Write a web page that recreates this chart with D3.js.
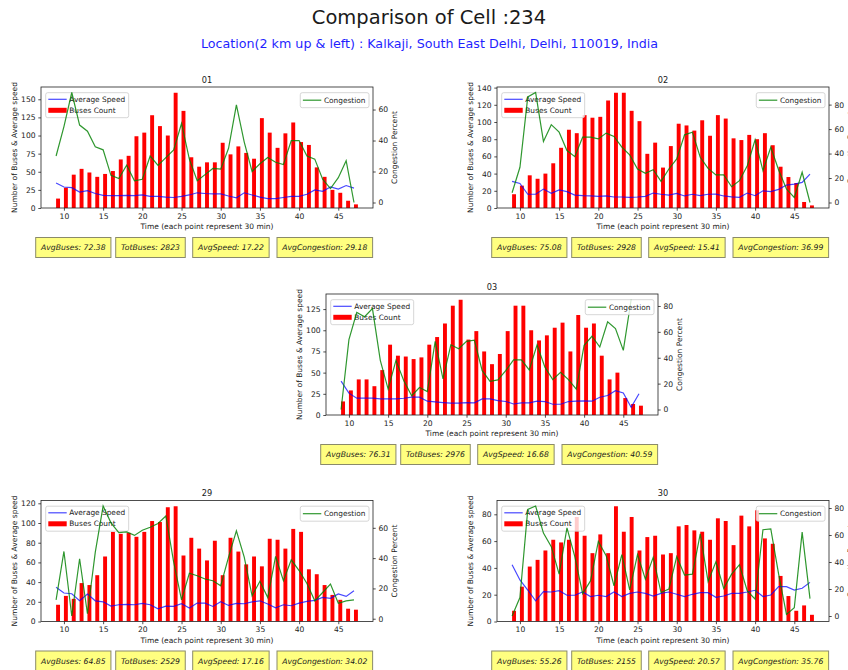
<!DOCTYPE html>
<html>
<head>
<meta charset="utf-8">
<script src="https://cdn.jsdelivr.net/npm/d3@7"></script>
<style>
  body { margin: 0; background: #fff; }
  svg { display: block; }
  text { font-family: "DejaVu Sans", sans-serif; fill: #1a1a1a; }
</style>
</head>
<body>
<svg id="fig" width="848" height="670"></svg>
<script>
// Half-hour slots 9..47
const slots = d3.range(9, 48);
const xTicks = [10, 15, 20, 25, 30, 35, 40, 45];

// Day 01
const buses01 = [13,28,46,54,49,43,47,51,67,72, 99,104,128,113,100,159,134,70,57,63, 63,90,74,85,76,68,124,104,83,103, 118,91,87,56,43,25,21,10,5];
const speed01 = [34.5,29,28,22,24,20,17.5,17,17,17.5, 17,18,16,16,15,14.5,16,18,21,20, 19.5,19.5,16.5,14,21,18,15,13,13,14.5, 16,16,19,25,23,29,26,31,27.5];
const congestion01 = [30,49,71,50,46,36,34,17.5,15.5,24, 14,15,30,24,29,34,51,28,14,18, 22,21.5,35,63,39,20,25,29,26,24.5, 40,40,30,28,15,9,16,27,0];

// Day 02
const buses02 = [16,26,38,34,40,52,70,91,87,108, 105,106,125,134,134,113,101,63,76,47, 72,98,96,90,102,84,108,104,81,79, 85,80,87,73,48,36,29,7,3];
const speed02 = [31,28.6,16,16,22,17,21,19,15,14.3, 14,13.5,14,12.8,12.8,12.4,12.8,13.5,17.4,16, 15,17,14,16,14.3,16,16.2,14,13,12.4, 17.4,14.3,20,19,21.7,26.7,27.8,29.8,39.4];
const congestion02 = [8,28.8,86.3,89.9,49.9,63.6,57.5,42.5,37.5,53.4, 53.4,52,56.7,54,45.2,38.9,27.4,23.8,26.8,17.3, 27.4,35.6,55.3,57.5,37,27.9,22.5,22.5,12.9,17.8, 30.1,51.2,26,45.2,26.6,11,4.1,24.7,0];

// Day 03 (no congestion reading for the last slot)
const buses03 = [16,29,42,42,34,53,83,70,69,66, 68,83,92,108,129,136,89,99,75,60, 72,99,129,129,100,88,94,103,109,75, 118,103,108,70,42,50,20,13,11];
const speed03 = [40,25.8,19.8,19.8,19.8,19,19,19,19.8,21, 21,16.3,15.5,14.7,13.9,13.9,14.7,14.3,19,19, 17,15.9,13,14.3,14.3,16.3,15.9,12.7,12.7,15.9, 16.3,16.7,16.3,21,23,28.6,26,9,25];
const congestion03 = [0,54,75,71.7,78,38,15.8,38,22.3,10.6, 17,13.8,52.7,23.6,50,47,52.7,53.5,30,21.8, 22.9,30,38.4,38.4,30.6,50,32.7,23.1,28.8,23.1, 15.8,49.6,56.6,48.3,67.8,62.6,45.7,85,null];

// Day 29
const buses29 = [17,26,23,39,37,47,66,91,89,90, 86,91,102,101,116,117,67,85,74,62, 82,47,85,71,58,66,56,84,83,74, 94,91,53,48,37,27,22,13,12];
const speed29 = [34.7,28.9,28.2,21,27.9,21,20,15.6,17,17.3, 17,18.4,17,12.9,15.6,15.3,18,13.6,18.7,18.7, 15.3,20,16.3,18.4,18,20,21,17.7,13.9,17, 16,18.7,20.4,21.4,24.5,23.5,27.9,25.5,31.3];
const congestion29 = [12.4,44.4,1.8,39.6,3.3,44,74.4,63.3,56.9,57.3, 55,58.4,60.4,62.9,67.8,37.3,12.4,30,28.4,26.2, 25.1,21.8,40.7,58,40.7,15.1,24.7,14,41.1,25.1, 38.9,31.8,23.3,11.8,17.3,22.9,10.2,11.8,12.4];

// Day 30
const buses30 = [8,26,41,46,53,61,59,61,78,64, 51,65,51,86,67,78,53,63,64,50, 51,71,72,68,67,61,77,75,57,79, 71,83,62,58,34,19,8,12,5];
const speed30 = [42.4,31,23.5,15.4,22.3,22,23,19.6,19.6,22, 18.6,19.6,18.6,22,18.6,21,22,21,19,21, 22,20.3,18.6,20.3,21.5,21.5,18,19,21,21, 22,23.3,18.6,19.8,26,26,23.5,24.8,29.2];
const congestion30 = [0,13.7,79,81.5,61.4,51.4,31,65.3,44,16.6, 26,55.3,44.7,22.4,45.5,19.4,45.5,27.3,43.5,17.4, 19.9,44,30.3,31,60.9,25.6,40.2,20.4,31,38, 18.6,12.4,63.9,64.6,31,1.2,6.2,62.1,12.9];

// Reported daily averages
const avgSpeedText = ["17.22", "15.41", "16.68", "17.16", "20.57"];
const avgCongestionText = ["29.18", "36.99", "40.59", "34.02", "35.76"];

// Tick labels for each panel
const leftTicks = [
  [0,25,50,75,100,125,150],
  [0,20,40,60,80,100,120,140],
  [0,25,50,75,100,125],
  [0,20,40,60,80,100,120],
  [0,20,40,60,80]
];
const rightTicks = [
  [0,20,40,60],
  [0,20,40,60,80],
  [0,20,40,60,80],
  [0,20,40,60],
  [0,20,40,60,80]
];
const panelTitles = ["01", "02", "03", "29", "30"];

const BAR_W = 0.5;
const W = 332, H = 121;
const origins = [[41, 87], [497, 87], [326, 294], [41, 500.5], [497, 500.5]];

const panels = panelTitles.map((t, i) => ({
  title: t,
  buses: [buses01, buses02, buses03, buses29, buses30][i],
  speed: [speed01, speed02, speed03, speed29, speed30][i],
  congestion: [congestion01, congestion02, congestion03, congestion29, congestion30][i],
  leftTicks: leftTicks[i],
  rightTicks: rightTicks[i],
  avgSpeed: avgSpeedText[i],
  avgCongestion: avgCongestionText[i],
  left: origins[i][0],
  top: origins[i][1]
}));

const svg = d3.select("#fig");
svg.append("rect").attr("width", 848).attr("height", 670).attr("fill", "#fff");

// Figure headings
svg.append("text").attr("x", 429).attr("y", 23.5).attr("text-anchor", "middle")
  .style("font-size", "19.5px").text("Comparison of Cell :234");
svg.append("text").attr("x", 429.5).attr("y", 47.6).attr("text-anchor", "middle")
  .style("font-size", "12.7px").style("fill", "#1f1fff")
  .text("Location(2 km up & left) : Kalkaji, South East Delhi, Delhi, 110019, India");

const xLo = slots[0], xHi = slots[slots.length - 1] + BAR_W;
const xPad = (xHi - xLo) * 0.05;

function styleAxis(sel) {
  sel.select(".domain").remove();
  sel.selectAll(".tick line").attr("stroke", "#222").attr("stroke-width", 0.8);
  sel.selectAll(".tick text").style("font-size", "7.6px").style("font-family", "DejaVu Sans").attr("fill", "#1a1a1a");
}

panels.forEach((p, idx) => {
  const g = svg.append("g").attr("transform", `translate(${p.left},${p.top})`);
  const x = d3.scaleLinear().domain([xLo - xPad, xHi + xPad]).range([0, W]);
  const yL = d3.scaleLinear().domain([0, d3.max(p.buses) * 1.05]).range([H, 0]);
  const cv = p.congestion.filter(v => v != null);
  const cMin = d3.min(cv), cMax = d3.max(cv), cPad = (cMax - cMin) * 0.05;
  const yR = d3.scaleLinear().domain([cMin - cPad, cMax + cPad]).range([H, 0]);

  const clipId = "clip" + idx;
  g.append("clipPath").attr("id", clipId).append("rect").attr("width", W).attr("height", H);

  // Title
  g.append("text").attr("x", W / 2).attr("y", -4.5).attr("text-anchor", "middle")
    .style("font-size", "8.2px").text(p.title);

  const plot = g.append("g").attr("clip-path", `url(#${clipId})`);

  // Bus count bars (edge-aligned)
  plot.append("g").selectAll("rect").data(slots).join("rect")
    .attr("x", (s) => x(s))
    .attr("width", (s) => x(s + BAR_W) - x(s))
    .attr("y", (s, i) => yL(p.buses[i]))
    .attr("height", (s, i) => yL(0) - yL(p.buses[i]))
    .attr("fill", "#ff0000");

  // Average speed line
  plot.append("path").datum(slots)
    .attr("fill", "none").attr("stroke", "#0000ff").attr("stroke-opacity", 0.72)
    .attr("stroke-width", 1.2)
    .attr("d", d3.line().x(s => x(s)).y((s, i) => yL(p.speed[i])));

  // Axes
  const xa = g.append("g").attr("transform", `translate(0,${H})`)
    .call(d3.axisBottom(x).tickValues(xTicks).tickSize(2.7).tickPadding(2.7).tickFormat(d3.format("d")));
  styleAxis(xa);
  const la = g.append("g")
    .call(d3.axisLeft(yL).tickValues(p.leftTicks).tickSize(2.7).tickPadding(2.7).tickFormat(d3.format("d")));
  styleAxis(la);
  const ra = g.append("g").attr("transform", `translate(${W},0)`)
    .call(d3.axisRight(yR).tickValues(p.rightTicks).tickSize(2.7).tickPadding(2.7).tickFormat(d3.format("d")));
  styleAxis(ra);

  // Axis labels
  g.append("text").attr("x", W / 2).attr("y", H + 21).attr("text-anchor", "middle")
    .style("font-size", "7.5px").text("Time (each point represent 30 min)");
  g.append("text").attr("transform", `translate(-24,${H / 2}) rotate(-90)`).attr("text-anchor", "middle")
    .style("font-size", "7.5px").text("Number of Buses & Average speed");
  g.append("text").attr("transform", `translate(${W + 24},${H / 2}) rotate(-90)`).attr("text-anchor", "middle")
    .style("font-size", "7.5px").text("Congestion Percent");

  // Left legend
  const ll = g.append("g").attr("transform", "translate(4.7,5.7)");
  const llBox = ll.append("rect").attr("height", 25).attr("rx", 2)
    .attr("fill", "#fff").attr("fill-opacity", 0.8).attr("stroke", "#cccccc").attr("stroke-width", 0.8);
  ll.append("line").attr("x1", 2.6).attr("x2", 21).attr("y1", 6.6).attr("y2", 6.6)
    .attr("stroke", "#0000ff").attr("stroke-opacity", 0.72).attr("stroke-width", 1.2);
  ll.append("rect").attr("x", 2.6).attr("y", 15.1).attr("width", 18.4).attr("height", 5).attr("fill", "#ff0000");
  const t1 = ll.append("text").attr("x", 23.6).attr("y", 6.6).attr("dy", "0.35em").style("font-size", "7.4px").text("Average Speed");
  const t2 = ll.append("text").attr("x", 23.6).attr("y", 17.6).attr("dy", "0.35em").style("font-size", "7.4px").text("Buses Count");
  const lw = Math.max(t1.node().getComputedTextLength(), t2.node().getComputedTextLength());
  llBox.attr("width", 23.6 + lw + 3.5);

  // Congestion line (twin axis, drawn over the left axis content)
  const cLine = d3.line().defined((s, i) => p.congestion[i] != null)
    .x(s => x(s)).y((s, i) => yR(p.congestion[i]));
  g.append("g").attr("clip-path", `url(#${clipId})`).append("path").datum(slots)
    .attr("fill", "none").attr("stroke", "#008000").attr("stroke-opacity", 0.82)
    .attr("stroke-width", 1.2).attr("d", cLine);

  // Right legend
  const rl = g.append("g");
  const rlBox = rl.append("rect").attr("y", 5.7).attr("height", 15).attr("rx", 2)
    .attr("fill", "#fff").attr("fill-opacity", 0.8).attr("stroke", "#cccccc").attr("stroke-width", 0.8);
  const rt = rl.append("text").attr("y", 13.2).attr("dy", "0.35em").style("font-size", "7.4px").text("Congestion");
  const rw = rt.node().getComputedTextLength();
  const boxRight = W - 4;
  const boxLeft = boxRight - (rw + 3.5 + 23.6);
  rlBox.attr("x", boxLeft).attr("width", boxRight - boxLeft);
  rl.append("line").attr("x1", boxLeft + 2.6).attr("x2", boxLeft + 21).attr("y1", 13.2).attr("y2", 13.2)
    .attr("stroke", "#008000").attr("stroke-opacity", 0.82).attr("stroke-width", 1.2);
  rt.attr("x", boxLeft + 23.6);

  // Frame
  g.append("rect").attr("width", W).attr("height", H).attr("fill", "none")
    .attr("stroke", "#222").attr("stroke-width", 0.8);

  // Summary boxes
  const total = d3.sum(p.buses);
  const labels = [
    "AvgBuses: " + (total / p.buses.length).toFixed(2),
    "TotBuses: " + total,
    "AvgSpeed: " + p.avgSpeed,
    "AvgCongestion: " + p.avgCongestion
  ];
  const boxX = [-5.3, 74.7, 151.7, 236];
  labels.forEach((lab, k) => {
    const bg = g.append("g").attr("transform", `translate(${boxX[k]},${H + 29.5})`);
    const r = bg.append("rect").attr("height", 20).attr("fill", "#ffff80")
      .attr("stroke", "#8a8a6a").attr("stroke-width", 1);
    const tx = bg.append("text").attr("x", 5.3).attr("y", 10).attr("dy", "0.35em")
      .style("font-size", "7.7px").style("font-style", "italic").text(lab);
    r.attr("width", tx.node().getComputedTextLength() + 10.6);
  });
});
</script>
</body>
</html>
